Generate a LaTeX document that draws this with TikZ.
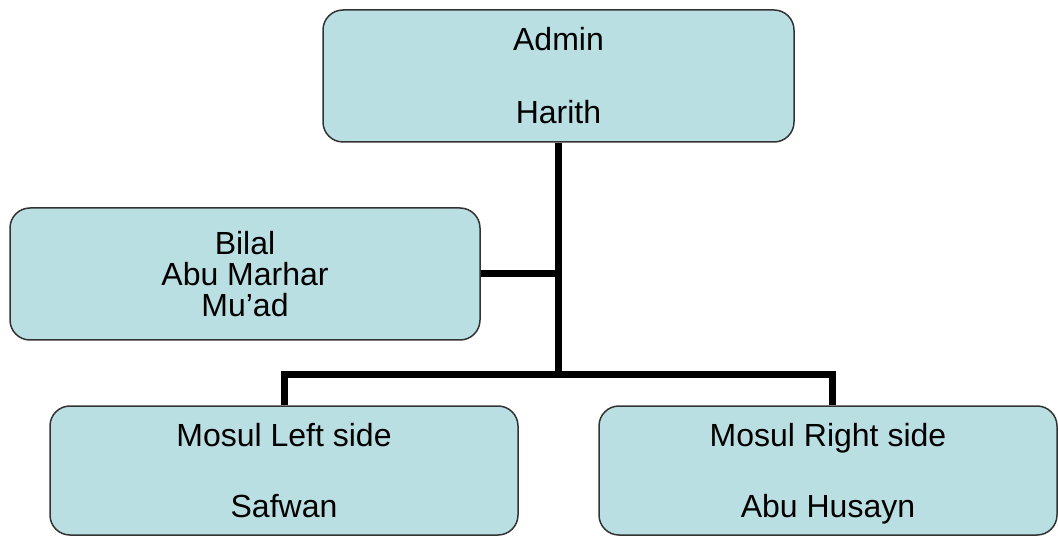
\documentclass[tikz,border=0pt]{standalone}
\usepackage{fontspec}
\setmainfont{Liberation Sans}
\definecolor{boxfill}{HTML}{B9DFE3}
\definecolor{boxline}{HTML}{333333}
\tikzset{
    orgbox/.style={draw=boxline, fill=boxfill, line width=1.5pt, rounded corners=20pt,
        align=center, inner sep=0pt, font=\fontsize{32}{31}\selectfont},
    link/.style={line width=7pt}
}
\begin{document}
\begin{tikzpicture}[x=1pt,y=-1pt]
    \useasboundingbox (0,0) rectangle (1058,537);
    % Draw the boxes
    \node[orgbox, minimum width=471pt, minimum height=132pt] (Admin) at (558.5,76) {Admin\\[42pt]Harith};
    \node[orgbox, minimum width=470pt, minimum height=132pt] (Bilal) at (245,274) {Bilal\\Abu Marhar\\Mu’ad};
    \node[orgbox, minimum width=468pt, minimum height=129pt] (MosulLeft) at (284,470.5) {\rule{0pt}{33pt}Mosul Left side\\[40pt]Safwan\strut};
    \node[orgbox, minimum width=458pt, minimum height=129pt] (MosulRight) at (828,470.5) {\rule{0pt}{33pt}Mosul Right side\\[40pt]Abu Husayn\strut};
    % Draw the links
    \coordinate (Bar) at (558.5,375);
    \draw[link] (Admin.south) -- (Bar);
    \draw[link] (Bilal.east) -- (Bilal.east -| Bar);
    \draw[link] (MosulLeft.north) |- (Bar) -| ([xshift=4pt]MosulRight.north);
\end{tikzpicture}
\end{document}
